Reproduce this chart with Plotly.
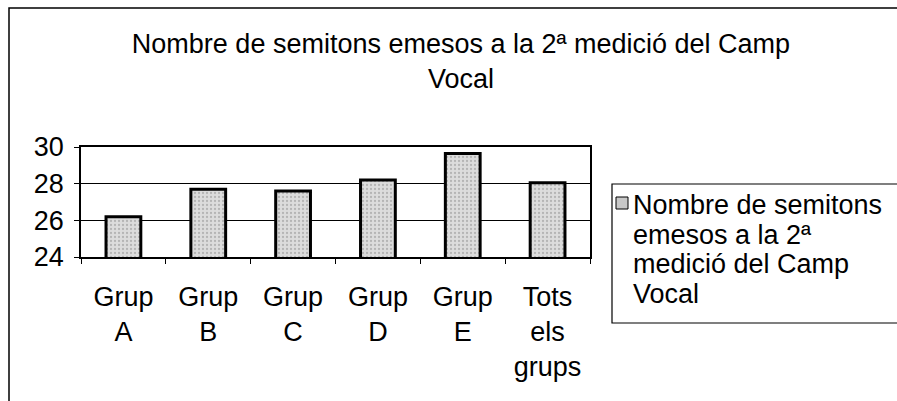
"""Semitons emesos - 2a medicio del Camp Vocal"""
import plotly.graph_objs as go

categories = ['Grup<br>A', 'Grup<br>B', 'Grup<br>C', 'Grup<br>D', 'Grup<br>E',
              'Tots<br>els<br>grups']
semitons = [26.2, 27.7, 27.6, 28.2, 29.65, 28.05]
y_ticks = [24, 26, 28, 30]
series_name = ['Nombre de semitons', 'emesos a la 2ª', 'medició del Camp', 'Vocal']
title_text = 'Nombre de semitons emesos a la 2ª medició del Camp<br>Vocal'

W, H = 897, 401
FONT = 'Arial, Liberation Sans, sans-serif'
FS = 27


def px(x):
    return x / W


def py_(y):
    return 1 - y / H


bars = go.Bar(
    x=categories,
    y=semitons,
    name=' '.join(series_name),
    marker=dict(
        color='#dcdcdc',
        line=dict(color='black', width=3),
        pattern=dict(shape='.', fgcolor='#8c8c8c', bgcolor='#dcdcdc',
                     size=4, solidity=0.25)
    ),
    showlegend=False
)

# frame around the chart + hand-made legend box
shapes = [
    dict(type='rect', xref='paper', yref='paper',
         x0=px(9), x1=1.05, y0=-0.05, y1=py_(8),
         line=dict(color='black', width=1.5)),
    dict(type='rect', xref='paper', yref='paper',
         x0=px(612), x1=1.05, y0=py_(323), y1=py_(184),
         line=dict(color='black', width=1.2), fillcolor='white', layer='below'),
    dict(type='rect', xref='paper', yref='paper',
         x0=px(616), x1=px(628), y0=py_(209), y1=py_(197),
         line=dict(color='black', width=1), fillcolor='#c8c8c8'),
]

annotations = []
for i, line in enumerate(series_name):
    annotations.append(dict(
        x=px(631), y=py_(205 + i * 29.5), xref='paper', yref='paper',
        xanchor='left', yanchor='middle', showarrow=False,
        text=line, font=dict(size=FS, family=FONT, color='black')
    ))

layout = go.Layout(
    width=W, height=H,
    margin=dict(l=0, r=0, t=0, b=0, autoexpand=False),
    paper_bgcolor='white',
    plot_bgcolor='white',
    font=dict(family=FONT, size=FS, color='black'),
    title=dict(text=title_text, x=px(461), xanchor='center',
               y=py_(53), yanchor='top',
               font=dict(size=FS, family=FONT, color='black')),
    bargap=0.59,
    xaxis=dict(
        domain=[px(81), px(590)],
        showline=True, linecolor='black', linewidth=1.5, mirror=True,
        ticks='outside', tickson='boundaries', ticklen=5, tickcolor='black',
        ticklabelstandoff=15, showgrid=False
    ),
    yaxis=dict(
        domain=[py_(257), py_(147)],
        range=[24, 30], tickvals=y_ticks, showline=True, linecolor='black',
        linewidth=1.5, mirror=True, ticks='outside', ticklen=5,
        tickcolor='black', ticklabelstandoff=5,
        showgrid=True, gridcolor='black', gridwidth=1, zeroline=False
    ),
    shapes=shapes,
    annotations=annotations,
    showlegend=False
)

fig = go.Figure(data=[bars], layout=layout)
# drop the page's default body margin so the figure sits at the window's corner
fig.write_html(
    "out.html",
    config={'displayModeBar': False},
    post_script="document.body.style.margin='0';document.body.style.overflow='hidden';"
)
